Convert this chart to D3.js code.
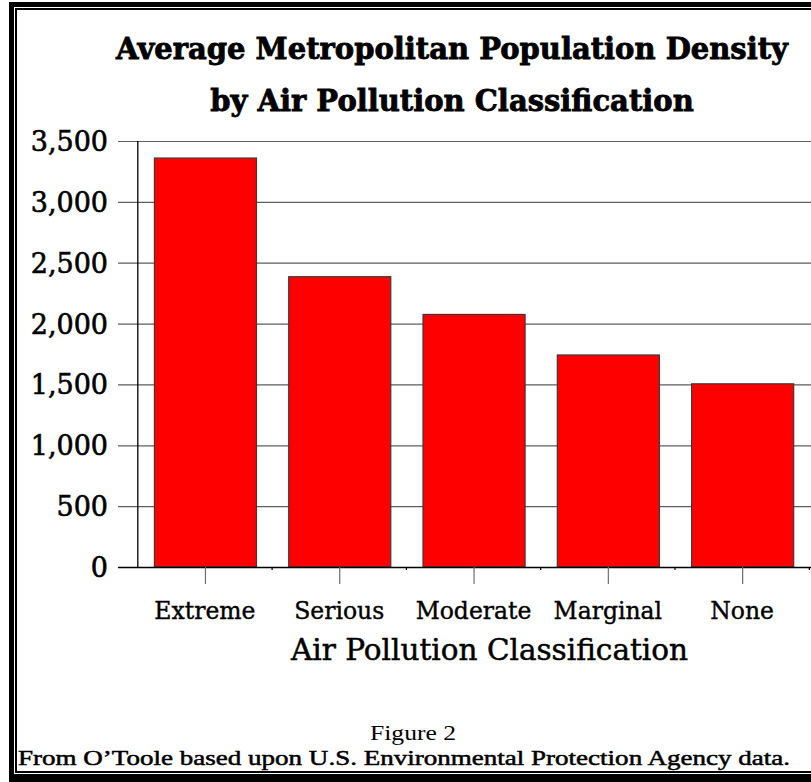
<!DOCTYPE html>
<html><head><meta charset="utf-8">
<script src="https://cdn.jsdelivr.net/npm/d3@7"></script>
<style>html,body{margin:0;padding:0;background:#fff;}svg{display:block;}</style>
</head><body>
<script>
const categories = ["Extreme","Serious","Moderate","Marginal","None"];
const densities = [3360, 2385, 2075, 1742, 1505];
const yTicks = [0,500,1000,1500,2000,2500,3000,3500];
const titleLines = ["Average Metropolitan Population Density","by Air Pollution Classification"];
const xTitle = "Air Pollution Classification";
const footerLines = ["Figure 2","From O\u2019Toole based upon U.S. Environmental Protection Agency data."];

(function(){
const W = 811, H = 782;
const svg = d3.select("body").append("svg").attr("width",W).attr("height",H);
svg.append("rect").attr("width",W).attr("height",H).attr("fill","#fff");

// double frame (left, top, bottom; right side runs off the page)
svg.append("path").attr("d",`M11.5,${H+5} L11.5,4.5 L${W+5},4.5`).attr("fill","none").attr("stroke","#000").attr("stroke-width",5);
svg.append("line").attr("x1",9).attr("x2",W+5).attr("y1",778).attr("y2",778).attr("stroke","#000").attr("stroke-width",8);
svg.append("path").attr("d",`M16,772 L16,9 L${W+5},9`).attr("fill","none").attr("stroke","#000").attr("stroke-width",2);
svg.append("line").attr("x1",15).attr("x2",W+5).attr("y1",772).attr("y2",772).attr("stroke","#000").attr("stroke-width",2);

const pL = 137.8, pR = 809.3, pT = 141, pB = 567;
const x = d3.scaleBand().domain(categories).range([pL,pR]).paddingInner(0.24).paddingOuter(0.12);
const y = d3.scaleLinear().domain([0,3500]).range([pB,pT]);

// gridlines
svg.append("g").selectAll("line").data(yTicks.filter(d=>d>0)).join("line")
  .attr("x1",118).attr("x2",W).attr("y1",d=>y(d)+0.5).attr("y2",d=>y(d)+0.5)
  .attr("stroke","#5e5e5e").attr("stroke-width",1.2);

// y axis line
svg.append("line").attr("x1",pL).attr("x2",pL).attr("y1",pT).attr("y2",pB)
  .attr("stroke","#000").attr("stroke-width",1.3);

// bars
svg.append("g").selectAll("rect").data(densities).join("rect")
  .attr("x",(d,i)=>x(categories[i])+0.5).attr("width",x.bandwidth())
  .attr("y",d=>y(d)).attr("height",d=>y(0)-y(d))
  .attr("fill","#ff0000").attr("stroke","#3a3a3a").attr("stroke-width",1.2);

// zero line
svg.append("line").attr("x1",118).attr("x2",W).attr("y1",pB+0.5).attr("y2",pB+0.5)
  .attr("stroke","#000").attr("stroke-width",1.3);

// category ticks
svg.append("g").selectAll("line").data(categories).join("line")
  .attr("x1",d=>x(d)+x.bandwidth()/2+0.5).attr("x2",d=>x(d)+x.bandwidth()/2+0.5)
  .attr("y1",pB).attr("y2",pB+17).attr("stroke","#6e6e6e").attr("stroke-width",1.2);
// boundary minor ticks
svg.append("g").selectAll("line").data(d3.range(1,categories.length+1)).join("line")
  .attr("x1",i=>pL + i*x.step()).attr("x2",i=>pL + i*x.step())
  .attr("y1",pB).attr("y2",pB+3).attr("stroke","#000").attr("stroke-width",1.2);

// y tick labels
svg.append("g").selectAll("text").data(yTicks).join("text")
  .attr("x",108).attr("y",d=>y(d)+10).attr("text-anchor","end")
  .attr("font-family","DejaVu Serif").attr("font-size",27).attr("fill","#000")
  .attr("stroke","#000").attr("stroke-width",0.6)
  .text(d=>d3.format(",")(d));

// category labels
svg.append("g").selectAll("text").data(categories).join("text")
  .attr("x",d=>x(d)+x.bandwidth()/2).attr("y",619).attr("text-anchor","middle")
  .attr("font-family","DejaVu Serif").attr("font-size",23.5).attr("fill","#000")
  .attr("stroke","#000").attr("stroke-width",0.4)
  .text(d=>d);

// axis title
svg.append("text").attr("x",489.5).attr("y",660).attr("text-anchor","middle")
  .attr("font-family","DejaVu Serif").attr("font-size",29.5).attr("fill","#000")
  .attr("stroke","#000").attr("stroke-width",0.5).text(xTitle);

// chart title
svg.append("g").selectAll("text").data(titleLines).join("text")
  .attr("x",452).attr("y",(d,i)=>59+i*52).attr("text-anchor","middle")
  .attr("font-family","DejaVu Serif").attr("font-weight","bold").attr("font-size",29).attr("fill","#000")
  .attr("stroke","#000").attr("stroke-width",0.8)
  .text(d=>d);

// footer
svg.append("text").attr("x",413).attr("y",740).attr("text-anchor","middle")
  .attr("font-family","Liberation Serif").attr("font-size",22).attr("fill","#000")
  .attr("textLength",86).attr("lengthAdjust","spacingAndGlyphs").text(footerLines[0]);
svg.append("text").attr("x",404).attr("y",765).attr("text-anchor","middle")
  .attr("font-family","Liberation Serif").attr("font-size",21.5).attr("fill","#000")
  .attr("stroke","#000").attr("stroke-width",0.5)
  .attr("textLength",772).attr("lengthAdjust","spacingAndGlyphs").text(footerLines[1]);
})();
</script>
</body></html>
